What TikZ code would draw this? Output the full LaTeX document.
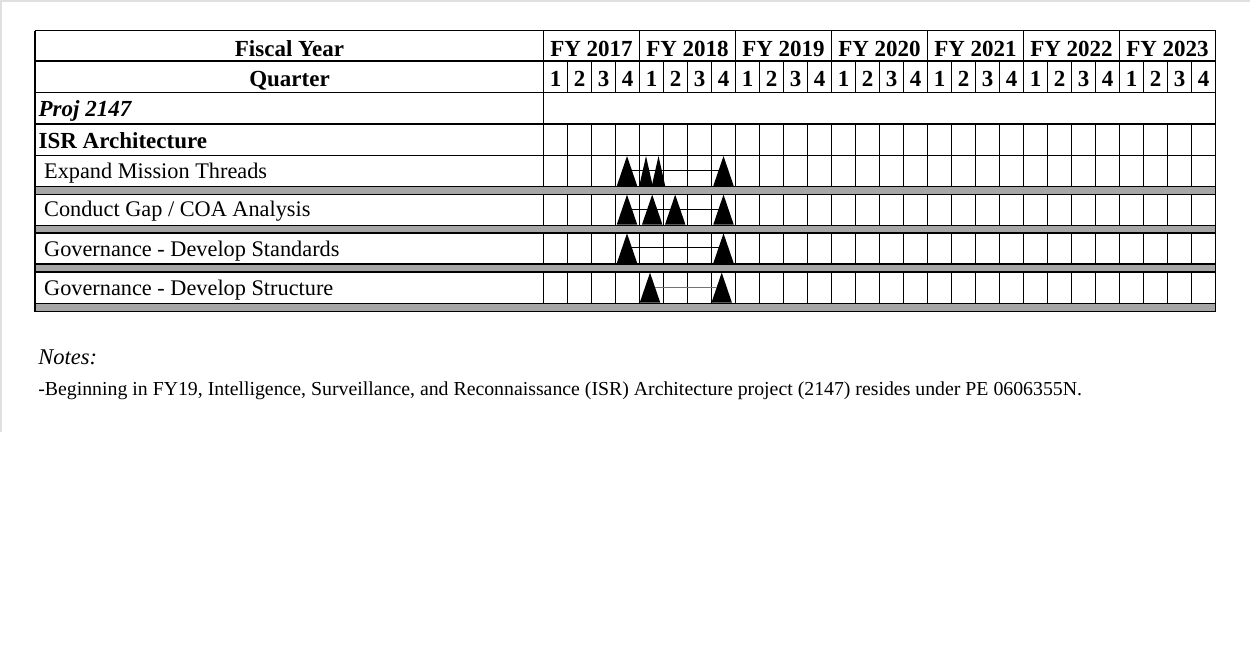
\documentclass[tikz,border=0pt]{standalone}
\usepackage{fontspec}
\setmainfont{Liberation Serif}
\usetikzlibrary{shapes.geometric, calc}
\definecolor{barra}{HTML}{A6A6A6}
\definecolor{marco}{HTML}{E0E0E0}
\tikzset{
  hdr/.style={font=\fontsize{23}{26}\selectfont\bfseries, inner sep=0pt,
              anchor=base},
  rowlbl/.style={font=\fontsize{23}{26}\selectfont\bfseries, inner sep=0pt,
                 anchor=base west},
  tarea/.style={font=\fontsize{22.3}{26}\selectfont, inner sep=0pt,
                anchor=base west},
  nota/.style={font=\fontsize{19.8}{22}\selectfont, inner sep=0pt,
               anchor=base west},
  hito/.style={isosceles triangle, isosceles triangle stretches,
               shape border rotate=90, fill=black, draw=none, inner sep=0pt,
               minimum height=30pt, minimum width=20.5pt,
               anchor=lower side},
  angosto/.style={minimum width=13.5pt},
  enlace/.style={line width=1pt, shorten <=5pt, shorten >=5pt}
}
\newcommand{\medio}[1]{($(#1.apex)!0.5!(#1.lower side)$)}

\begin{document}
\begin{tikzpicture}[x=1pt, y=-1pt, line width=1.3pt]
  \useasboundingbox (0,0) rectangle (1250,648);
  % ── marco claro ──
  \draw[marco, line width=2pt] (0,1) -- (1250,1);
  \draw[marco, line width=2pt] (1,0) -- (1,432);

  % ── barras grises ──
  \foreach \t/\b in {186.7/194.3, 225.3/233, 264/272, 303.3/311.3}
    \draw[fill=barra] (35,\t) rectangle (1215.5,\b);

  % ── rejilla ──
  \foreach \y in {30.7, 61, 92.7, 124, 155.7}
    \draw (35,\y) -- (1215.5,\y);
  \draw (35,30.7) -- (35,311.3);
  \draw (1215.5,30.7) -- (1215.5,311.3);
  \foreach \k in {0,...,7}
    \draw (543.5+96*\k,30.7) -- (543.5+96*\k,61);
  \draw (543.5,92.7) -- (543.5,124);
  \foreach \t/\b in {61/92.7, 124/155.7, 155.7/186.7, 194.3/225.3, 233/264, 272/303.3}
    \foreach \k in {0,...,28}
      \draw (543.5+24*\k,\t) -- (543.5+24*\k,\b);

  % ── encabezados ──
  \node[hdr] (fy)  at (289.5,56.7) {Fiscal Year};
  \node[hdr] (qtr) at (289.5,86.7) {Quarter};
  \foreach \yr [count=\i from 0] in {2017,...,2023}
    \node[hdr] (fy\yr) at (591.5+96*\i,56.7) {FY \yr};
  \foreach \k in {0,...,27} {
    \pgfmathtruncatemacro\q{mod(\k,4)+1}
    \node[hdr] (q\k) at (555.5+24*\k,86.7) {\q};
  }

  % ── filas ──
  \node[rowlbl, font=\fontsize{23}{26}\selectfont\bfseries\itshape] (proj)
        at (38,116.7) {Proj 2147};
  \node[rowlbl] (isr) at (38,148.3) {ISR Architecture};
  \node[tarea] (expand)    at (43.5,178.3) {Expand Mission Threads};
  \node[tarea] (gap)       at (43.5,216.7) {Conduct Gap / COA Analysis};
  \node[tarea] (standards) at (43.5,256)   {Governance - Develop Standards};
  \node[tarea] (structure) at (43.5,295)   {Governance - Develop Structure};

  % ── hitos ──
  \node[hito]          (e1) at (627,186.7)   {};
  \node[hito, angosto] (e2) at (646,186.7)   {};
  \node[hito, angosto] (e3) at (658.5,186.7) {};
  \node[hito]          (e4) at (723.5,186.7) {};
  \draw[enlace] \medio{e1} -- \medio{e4};

  \node[hito] (c1) at (627,225.3)   {};
  \node[hito] (c2) at (652.2,225.3) {};
  \node[hito] (c3) at (675.2,225.3) {};
  \node[hito] (c4) at (723.5,225.3) {};
  \draw[enlace] \medio{c1} -- \medio{c4};

  \node[hito] (s1) at (627,264)   {};
  \node[hito] (s2) at (723.5,264) {};
  \draw[enlace] \medio{s1} -- \medio{s2};

  \node[hito] (g1) at (650,303.3)   {};
  \node[hito] (g2) at (721.7,303.3) {};
  \draw[enlace, black!55] \medio{g1} -- \medio{g2};

  % ── notas ──
  \node[nota, font=\fontsize{22.5}{26}\selectfont\itshape] (notes)
        at (37.7,364) {Notes:};
  \node[nota] (note1) at (37.7,395)
        {-Beginning in FY19, Intelligence, Surveillance, and Reconnaissance
         (ISR) Architecture project (2147) resides under PE 0606355N.};
\end{tikzpicture}
\end{document}
